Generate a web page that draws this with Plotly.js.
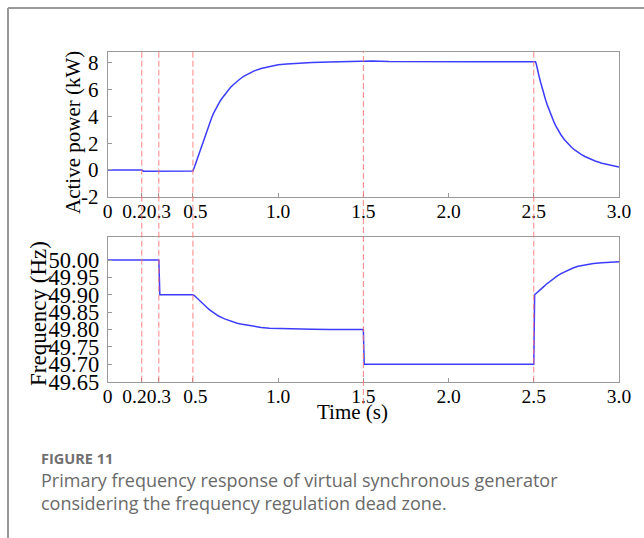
<!DOCTYPE html>
<html><head><meta charset="utf-8">
<script src="https://cdn.plot.ly/plotly-3.0.1.min.js"></script>
<style>html,body{margin:0;padding:0;background:#fff}#chart{width:644px;height:538px}</style>
</head><body><div id="chart"></div>
<script>
// ---- data ----
const powerTime = [0, 0.2, 0.21, 0.3, 0.4, 0.5,
  0.51, 0.52, 0.53, 0.54, 0.55, 0.56, 0.57, 0.58, 0.59, 0.60, 0.61, 0.62, 0.63, 0.64, 0.65, 0.66, 0.67, 0.68, 0.69, 0.70,
  0.72, 0.74, 0.76, 0.78, 0.80, 0.83, 0.86, 0.90, 0.95, 1.00, 1.05, 1.10, 1.20, 1.30, 1.40, 1.49, 1.50, 1.55, 1.65, 1.80, 2.00, 2.20, 2.40, 2.51,
  2.515, 2.52, 2.53, 2.54, 2.55, 2.56, 2.57, 2.58, 2.59, 2.60, 2.61, 2.62, 2.63, 2.64, 2.65, 2.66, 2.68, 2.70, 2.72, 2.74, 2.76, 2.78, 2.80, 2.83, 2.86, 2.90, 2.95, 3.00];
const powerKW = [0, 0, -0.09, -0.08, -0.09, -0.08,
  0.25, 0.62, 1.0, 1.4, 1.8, 2.2, 2.58, 2.95, 3.28, 3.6, 3.9, 4.2, 4.46, 4.7, 4.93, 5.15, 5.33, 5.5, 5.68, 5.85,
  6.15, 6.4, 6.63, 6.83, 7.0, 7.22, 7.4, 7.58, 7.74, 7.85, 7.92, 7.97, 8.03, 8.06, 8.08, 8.08, 8.12, 8.14, 8.1, 8.08, 8.08, 8.08, 8.08, 8.08,
  7.9, 7.55, 7.05, 6.55, 6.05, 5.6, 5.2, 4.82, 4.46, 4.13, 3.82, 3.53, 3.27, 3.03, 2.81, 2.61, 2.26, 1.96, 1.71, 1.49, 1.3, 1.14, 1.0, 0.82, 0.67, 0.5, 0.34, 0.22];

const freqTime = [0, 0.2, 0.3, 0.306, 0.4, 0.5,
  0.51, 0.52, 0.53, 0.54, 0.55, 0.56, 0.57, 0.58, 0.59, 0.60, 0.61, 0.62, 0.63, 0.64, 0.65, 0.66, 0.67, 0.68, 0.69, 0.70,
  0.72, 0.74, 0.76, 0.78, 0.80, 0.83, 0.86, 0.90, 0.95, 1.00, 1.10, 1.20, 1.30, 1.40, 1.50, 1.505, 1.80, 2.10, 2.40, 2.50, 2.505,
  2.51, 2.52, 2.53, 2.54, 2.55, 2.56, 2.57, 2.58, 2.59, 2.60, 2.62, 2.64, 2.66, 2.68, 2.70, 2.73, 2.76, 2.80, 2.85, 2.90, 2.95, 3.00];
const freqHz = [50.0, 50.0, 50.0, 49.9, 49.9, 49.9,
  49.897, 49.892, 49.888, 49.883, 49.878, 49.873, 49.868, 49.864, 49.860, 49.856, 49.852, 49.848, 49.845, 49.842, 49.839, 49.836, 49.834, 49.832, 49.830, 49.828,
  49.824, 49.821, 49.818, 49.816, 49.814, 49.811, 49.809, 49.806, 49.804, 49.803, 49.802, 49.801, 49.800, 49.800, 49.800, 49.7, 49.7, 49.7, 49.7, 49.7, 49.9,
  49.902, 49.906, 49.911, 49.915, 49.920, 49.924, 49.929, 49.933, 49.937, 49.941, 49.948, 49.955, 49.961, 49.966, 49.971, 49.977, 49.982, 49.986, 49.990, 49.992, 49.994, 49.995];

const eventTimes = [0.2, 0.3, 0.5, 1.5, 2.5];
const xTickVals = [0, 0.2, 0.3, 0.5, 1.0, 1.5, 2.0, 2.5, 3.0];
const xTickText = ['0', '0.2\u00a0\u00a0\u00a0', '0.3', '\u00a00.5', '1.0', '1.5', '2.0', '2.5', '3.0'];
const powerTickVals = [-2, 0, 2, 4, 6, 8];
const powerTickText = ['-2', '0', '2', '4', '6', '8'];
const freqTickVals = [49.65, 49.70, 49.75, 49.80, 49.85, 49.90, 49.95, 50.00];
const freqTickText = ['49.65', '49.70', '49.75', '49.80', '49.85', '49.90', '49.95', '50.00'];

// ---- layout helpers ----
const W = 644, H = 538;
const px = x => x / W;
const py = y => 1 - y / H;
const serif = 'Liberation Serif, Times New Roman, serif';
const sans = 'Open Sans, Noto Sans, sans-serif';
const lineBlue = '#3c3cff';
const frame = '#9a9a9a';

const commonX = {
  range: [0, 3], tickmode: 'array', tickvals: xTickVals, ticktext: xTickText,
  tickangle: 0, ticks: 'inside', ticklen: 4, tickcolor: frame,
  showline: true, mirror: true, linecolor: frame, linewidth: 1,
  showgrid: false, zeroline: false,
  tickfont: {family: serif, size: 19.5, color: '#000'}, ticklabelstandoff: -3
};
const commonY = {
  ticks: 'inside', ticklen: 4, tickcolor: frame, tickmode: 'array',
  showline: true, mirror: true, linecolor: frame, linewidth: 1,
  showgrid: false, zeroline: false,
  tickfont: {family: serif, size: 21, color: '#000'}, ticklabelstandoff: 4
};

const traces = [
  {x: powerTime, y: powerKW, xaxis: 'x', yaxis: 'y', mode: 'lines',
   line: {color: lineBlue, width: 1.5}, hoverinfo: 'skip'},
  {x: freqTime, y: freqHz, xaxis: 'x2', yaxis: 'y2', mode: 'lines',
   line: {color: lineBlue, width: 1.5}, hoverinfo: 'skip'}
];

const shapes = eventTimes.map(t => ({
  type: 'line', xref: 'x', yref: 'paper', x0: t, x1: t,
  y0: py(t === 1.5 ? 404 : 381.7), y1: py(51.7),
  line: {color: 'rgba(255,110,110,0.85)', width: 1, dash: '6px,3px'}
}));
shapes.push(
  {type: 'line', xref: 'paper', yref: 'paper', x0: px(8), x1: px(660), y0: py(8), y1: py(8), line: {color: '#999', width: 2}},
  {type: 'line', xref: 'paper', yref: 'paper', x0: px(8), x1: px(8), y0: py(8), y1: py(560), line: {color: '#999', width: 2}}
);

const annotations = [
  {text: 'Active power (kW)', x: px(73), y: py(133), xref: 'paper', yref: 'paper', textangle: -90,
   showarrow: false, xanchor: 'center', yanchor: 'middle', font: {family: serif, size: 21, color: '#000'}},
  {text: 'Frequency (Hz)', x: px(38), y: py(314), xref: 'paper', yref: 'paper', textangle: -90,
   showarrow: false, xanchor: 'center', yanchor: 'middle', font: {family: serif, size: 23, color: '#000'}},
  {text: 'Time (s)', x: px(352), y: py(412), xref: 'paper', yref: 'paper',
   showarrow: false, xanchor: 'center', yanchor: 'middle', font: {family: serif, size: 21, color: '#000'}},
  {text: '<b>FIGURE 11</b>', x: px(39), y: py(458), xref: 'paper', yref: 'paper',
   showarrow: false, xanchor: 'left', yanchor: 'middle', font: {family: sans, size: 14.5, color: '#707070'}},
  {text: 'Primary frequency response of virtual synchronous generator', x: px(39), y: py(480), xref: 'paper', yref: 'paper',
   showarrow: false, xanchor: 'left', yanchor: 'middle', font: {family: sans, size: 18, color: '#6a6a6a'}},
  {text: 'considering the frequency regulation dead zone.', x: px(39), y: py(503), xref: 'paper', yref: 'paper',
   showarrow: false, xanchor: 'left', yanchor: 'middle', font: {family: sans, size: 18, color: '#6a6a6a'}}
];

const layout = {
  width: W, height: H, margin: {l: 0, r: 0, t: 0, b: 0},
  paper_bgcolor: '#fff', plot_bgcolor: '#fff', showlegend: false,
  xaxis: Object.assign({}, commonX, {domain: [px(107.7), px(619)], anchor: 'y'}),
  yaxis: Object.assign({}, commonY, {domain: [py(196.7), py(51.7)], anchor: 'x', range: [-2, 8.83],
    tickvals: powerTickVals, ticktext: powerTickText}),
  xaxis2: Object.assign({}, commonX, {domain: [px(107.7), px(619)], anchor: 'y2'}),
  yaxis2: Object.assign({}, commonY, {domain: [py(381.7), py(236.7)], anchor: 'x2', range: [49.65, 50.067],
    tickvals: freqTickVals, ticktext: freqTickText, tickfont: {family: serif, size: 22.5, color: '#000'}, ticklabelstandoff: 3}),
  shapes: shapes, annotations: annotations
};

Plotly.newPlot('chart', traces, layout, {displayModeBar: false, staticPlot: true});
</script>
</body></html>
